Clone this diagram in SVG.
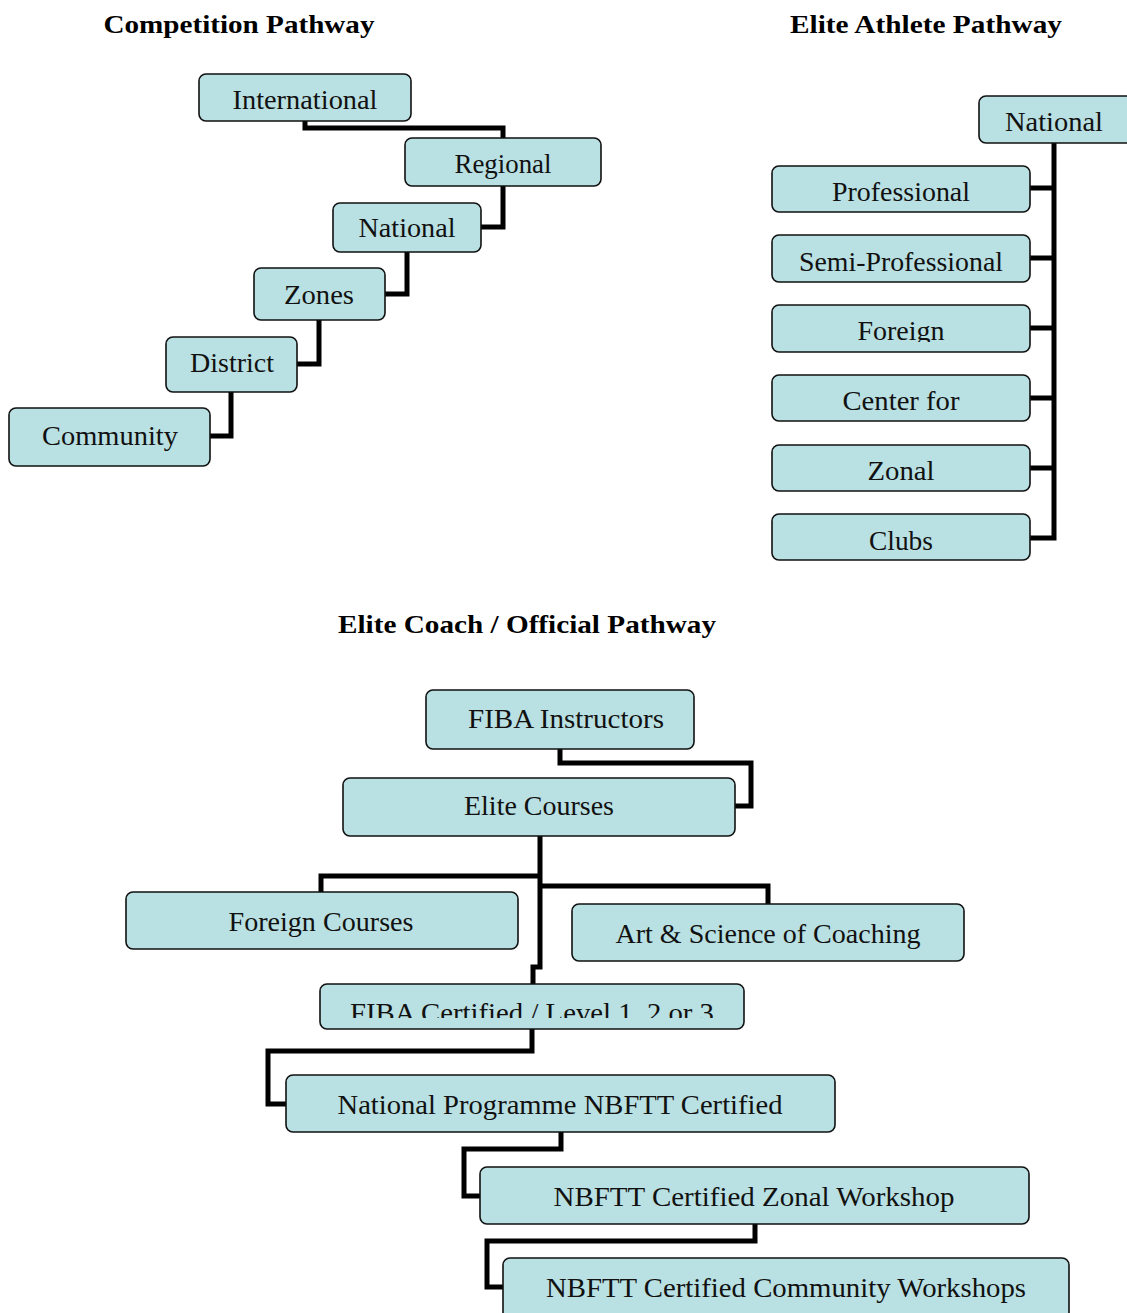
<svg xmlns="http://www.w3.org/2000/svg" width="1127" height="1313" viewBox="0 0 1127 1313">
<style>
.box{fill:#b9e0e2;stroke:#111;stroke-width:1.6}
.t{font-family:'Liberation Serif','Times New Roman',Tinos,serif;font-size:27px;fill:#111;text-anchor:middle}
.h{font-family:'Liberation Serif','Times New Roman',Tinos,serif;font-size:25px;font-weight:bold;fill:#000;text-anchor:middle}
.c{fill:none;stroke:#000;stroke-width:5;stroke-linejoin:miter}
</style>
<defs>
<clipPath id="clipForeign"><rect x="760" y="300" width="300" height="42"/></clipPath>
<clipPath id="clipFiba"><rect x="310" y="980" width="450" height="38"/></clipPath>
</defs>
<rect width="1127" height="1313" fill="#fff"/>
<g id="titles">
<text class="h" x="239" y="33" textLength="271" lengthAdjust="spacingAndGlyphs">Competition Pathway</text>
<text class="h" x="926" y="33" textLength="272" lengthAdjust="spacingAndGlyphs">Elite Athlete Pathway</text>
<text class="h" x="527" y="633" textLength="378" lengthAdjust="spacingAndGlyphs">Elite Coach / Official Pathway</text>
</g>
<g id="connectors">
<path class="c" d="M305,121 V128 H503 V138"/>
<path class="c" d="M503,186 V227 H481"/>
<path class="c" d="M407,252 V294 H385"/>
<path class="c" d="M319,320 V364 H297"/>
<path class="c" d="M231,392 V436 H210"/>
<path class="c" d="M1054,143 V538 H1030"/>
<path class="c" d="M1030,188 H1054 M1030,258 H1054 M1030,328 H1054 M1030,398 H1054 M1030,468 H1054"/>
<path class="c" d="M560,749 V763 H751 V806 H735"/>
<path class="c" d="M540,836 V967 H533 V984"/>
<path class="c" d="M540,876 H321 V892"/>
<path class="c" d="M540,886 H768 V904"/>
<path class="c" d="M532,1029 V1051 H268 V1104 H286"/>
<path class="c" d="M561,1132 V1149 H464 V1196 H480"/>
<path class="c" d="M755,1224 V1241 H487 V1287 H503"/>
</g>
<g id="n-international"><rect class="box" x="199" y="74" width="212" height="47" rx="7"/><text class="t" x="305" y="109" textLength="145" lengthAdjust="spacingAndGlyphs">International</text></g>
<g id="n-regional"><rect class="box" x="405" y="138" width="196" height="48" rx="7"/><text class="t" x="503" y="173" textLength="97" lengthAdjust="spacingAndGlyphs">Regional</text></g>
<g id="n-national-comp"><rect class="box" x="333" y="203" width="148" height="49" rx="7"/><text class="t" x="407" y="237" textLength="97" lengthAdjust="spacingAndGlyphs">National</text></g>
<g id="n-zones"><rect class="box" x="254" y="268" width="131" height="52" rx="7"/><text class="t" x="319" y="304" textLength="70" lengthAdjust="spacingAndGlyphs">Zones</text></g>
<g id="n-district"><rect class="box" x="166" y="337" width="131" height="55" rx="7"/><text class="t" x="232" y="372" textLength="84" lengthAdjust="spacingAndGlyphs">District</text></g>
<g id="n-community"><rect class="box" x="9" y="408" width="201" height="58" rx="7"/><text class="t" x="110" y="445" textLength="136" lengthAdjust="spacingAndGlyphs">Community</text></g>
<g id="n-national-ath"><rect class="box" x="979" y="96" width="160" height="47" rx="7"/><text class="t" x="1054" y="131" textLength="98" lengthAdjust="spacingAndGlyphs">National</text></g>
<g id="n-professional"><rect class="box" x="772" y="166" width="258" height="46" rx="7"/><text class="t" x="901" y="201" textLength="138" lengthAdjust="spacingAndGlyphs">Professional</text></g>
<g id="n-semipro"><rect class="box" x="772" y="235" width="258" height="47" rx="7"/><text class="t" x="901" y="271" textLength="204" lengthAdjust="spacingAndGlyphs">Semi-Professional</text></g>
<g id="n-foreign"><rect class="box" x="772" y="305" width="258" height="47" rx="7"/><text class="t" x="901" y="340" textLength="87" lengthAdjust="spacingAndGlyphs" clip-path="url(#clipForeign)">Foreign</text></g>
<g id="n-center"><rect class="box" x="772" y="375" width="258" height="46" rx="7"/><text class="t" x="901" y="410" textLength="117" lengthAdjust="spacingAndGlyphs">Center for</text></g>
<g id="n-zonal"><rect class="box" x="772" y="445" width="258" height="46" rx="7"/><text class="t" x="901" y="480" textLength="67" lengthAdjust="spacingAndGlyphs">Zonal</text></g>
<g id="n-clubs"><rect class="box" x="772" y="514" width="258" height="46" rx="7"/><text class="t" x="901" y="550" textLength="64" lengthAdjust="spacingAndGlyphs">Clubs</text></g>
<g id="n-fiba-instr"><rect class="box" x="426" y="690" width="268" height="59" rx="7"/><text class="t" x="566" y="728" textLength="196" lengthAdjust="spacingAndGlyphs">FIBA Instructors</text></g>
<g id="n-elite"><rect class="box" x="343" y="778" width="392" height="58" rx="7"/><text class="t" x="539" y="815" textLength="150" lengthAdjust="spacingAndGlyphs">Elite Courses</text></g>
<g id="n-foreign-courses"><rect class="box" x="126" y="892" width="392" height="57" rx="7"/><text class="t" x="321" y="931" textLength="185" lengthAdjust="spacingAndGlyphs">Foreign Courses</text></g>
<g id="n-art"><rect class="box" x="572" y="904" width="392" height="57" rx="7"/><text class="t" x="768" y="943" textLength="305" lengthAdjust="spacingAndGlyphs">Art &amp; Science of Coaching</text></g>
<g id="n-fiba-cert"><rect class="box" x="320" y="984" width="424" height="45" rx="7"/><text class="t" x="532" y="1022" textLength="364" lengthAdjust="spacingAndGlyphs" clip-path="url(#clipFiba)">FIBA Certified  / Level 1, 2 or 3</text></g>
<g id="n-national-prog"><rect class="box" x="286" y="1075" width="549" height="57" rx="7"/><text class="t" x="560" y="1114" textLength="445" lengthAdjust="spacingAndGlyphs">National Programme NBFTT Certified</text></g>
<g id="n-zonal-ws"><rect class="box" x="480" y="1167" width="549" height="57" rx="7"/><text class="t" x="754" y="1206" textLength="401" lengthAdjust="spacingAndGlyphs">NBFTT Certified Zonal Workshop</text></g>
<g id="n-community-ws"><rect class="box" x="503" y="1258" width="566" height="65" rx="7"/><text class="t" x="786" y="1297" textLength="480" lengthAdjust="spacingAndGlyphs">NBFTT Certified Community Workshops</text></g>
</svg>
